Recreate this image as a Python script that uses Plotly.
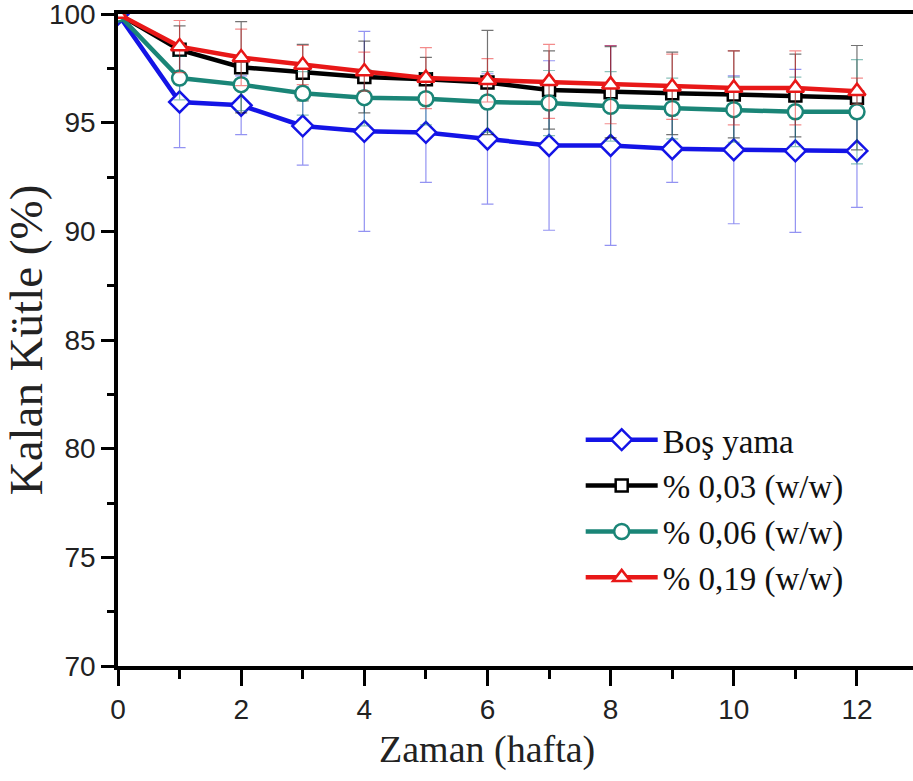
import plotly.graph_objects as go

weeks = [0, 1, 2, 3, 4, 5, 6, 7, 8, 9, 10, 11, 12]

bos_yama = [100, 95.95, 95.8, 94.85, 94.6, 94.55, 94.25, 93.95, 93.95, 93.8, 93.75, 93.7, 93.7]
bos_err = [0, 2.1, 1.35, 1.8, 4.6, 2.3, 3.0, 3.9, 4.6, 1.55, 3.4, 3.75, 2.6]

w003 = [100, 98.35, 97.55, 97.3, 97.1, 97.0, 96.85, 96.5, 96.4, 96.35, 96.3, 96.25, 96.15]
w003_err = [0, 1.1, 2.1, 1.3, 1.65, 1.0, 2.4, 1.8, 2.1, 1.9, 2.0, 1.9, 2.4]

w006 = [100, 97.05, 96.75, 96.35, 96.15, 96.1, 95.95, 95.9, 95.75, 95.65, 95.6, 95.5, 95.5]
w006_err = [0, 1.0, 1.2, 1.0, 1.3, 1.2, 1.4, 1.5, 1.6, 1.4, 1.5, 1.6, 2.4]

w019 = [100, 98.5, 98.0, 97.65, 97.35, 97.05, 96.95, 96.9, 96.75, 96.65, 96.6, 96.6, 96.45]
w019_err = [0, 1.2, 1.3, 0.9, 0.9, 1.4, 1.0, 1.7, 1.8, 1.5, 1.7, 1.7, 0.6]

names = ["Boş yama", "% 0,03 (w/w)", "% 0,06 (w/w)", "% 0,19 (w/w)"]
series = [bos_yama, w003, w006, w019]
errors = [bos_err, w003_err, w006_err, w019_err]
colors = ["#1414e6", "#000000", "#1a8577", "#e81818"]
err_colors = ["rgba(40,40,230,0.5)", "rgba(0,0,0,0.55)", "rgba(26,133,119,0.5)", "rgba(232,24,24,0.5)"]
symbols = ["diamond", "square", "circle", "triangle-up"]
sizes = [16, 12, 15, 15]

fig = go.Figure()
for name, ys, err, c, ec, sym, sz in zip(names, series, errors, colors, err_colors, symbols, sizes):
    fig.add_trace(go.Scatter(
        x=weeks, y=ys, name=name, mode="lines+markers",
        line=dict(color=c, width=4.5),
        marker=dict(symbol=sym, size=sz, color="white", line=dict(width=2.5, color=c)),
        error_y=dict(type="data", array=err, visible=True, color=ec, thickness=1.2, width=6),
    ))

fig.add_annotation(
    x=6, xref="x", y=-0.092, yref="paper", yanchor="top",
    text="Zaman (hafta)", showarrow=False,
    font=dict(family="Liberation Serif, Times New Roman, serif", size=38, color="#222"),
)

fig.update_layout(
    width=913, height=781,
    margin=dict(l=118, r=0, t=14, b=115),
    paper_bgcolor="white", plot_bgcolor="white",
    showlegend=True,
    legend=dict(
        x=0.582, y=0.39, xanchor="left", yanchor="top",
        font=dict(family="Liberation Serif, Times New Roman, serif", size=33, color="#111"),
        bgcolor="rgba(0,0,0,0)", itemwidth=72, tracegroupgap=0,
    ),
    xaxis=dict(
        range=[0, 12.91], dtick=2, tick0=0,
        showgrid=False, zeroline=False,
        showline=True, linecolor="black", linewidth=3.5, mirror=True,
        ticks="outside", ticklen=16, tickwidth=3, tickcolor="black",
        minor=dict(dtick=1, ticks="outside", ticklen=9, tickwidth=3, tickcolor="black"),
        tickfont=dict(family="Liberation Sans, Arial", size=28, color="#222"),
        ticklabeloverflow="allow",
    ),
    yaxis=dict(
        range=[70, 100], dtick=5, tick0=70,
        showgrid=False, zeroline=False,
        showline=True, linecolor="black", linewidth=3.5,
        ticks="outside", ticklen=13, tickwidth=3, tickcolor="black",
        minor=dict(dtick=2.5, ticks="outside", ticklen=7, tickwidth=3, tickcolor="black"),
        tickfont=dict(family="Liberation Sans, Arial", size=28, color="#222"),
        ticklabeloverflow="allow",
        title=dict(text="Kalan Kütle (%)", standoff=4,
                   font=dict(family="Liberation Serif, Times New Roman, serif", size=47, color="#222")),
    ),
)

fig.write_html("out.html")
